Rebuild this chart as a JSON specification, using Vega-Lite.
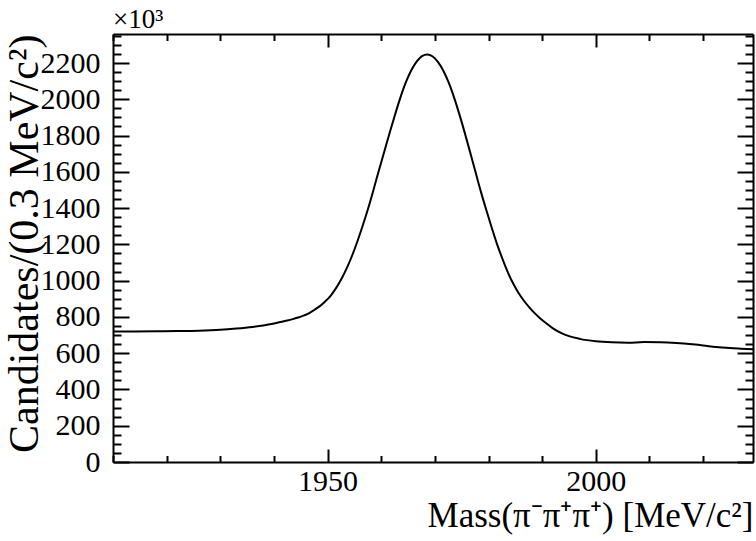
{
  "$schema": "https://vega.github.io/schema/vega-lite/v6.json",
  "width": 640,
  "height": 428,
  "autosize": {"type": "none"},
  "padding": {"left": 113, "top": 34, "right": 3, "bottom": 79},
  "background": "white",
  "title": {"text": "×10³", "anchor": "start", "frame": "group", "font": "Liberation Serif", "fontSize": 27, "fontWeight": "normal", "color": "black", "offset": -13},
  "config": {
    "view": {"stroke": null},
    "axis": {
      "grid": false,
      "domainColor": "black",
      "domainWidth": 2,
      "tickColor": "black",
      "tickWidth": 2,
      "labelFont": "Liberation Serif",
      "labelFontSize": 30,
      "labelColor": "black",
      "titleFont": "Liberation Serif",
      "titleFontWeight": "normal",
      "titleColor": "black",
      "labelOverlap": false,
      "labelFlush": false
    }
  },
  "data": {"values": [
    {"m":1910,"n":719},{"m":1914,"n":720},{"m":1918,"n":721},{"m":1922,"n":722},{"m":1926,"n":724},{"m":1930,"n":729},{"m":1933,"n":736},{"m":1936,"n":745},{"m":1938,"n":753},{"m":1940,"n":764},{"m":1941.5,"n":773},{"m":1942.5,"n":780},{"m":1943.5,"n":788},{"m":1944.5,"n":797},{"m":1945.5,"n":807},{"m":1946.5,"n":820},{"m":1947.5,"n":838},{"m":1948.5,"n":858},{"m":1949.5,"n":884},{"m":1950.6,"n":918},{"m":1951.6,"n":960},{"m":1952.6,"n":1010},{"m":1953.6,"n":1070},{"m":1954.6,"n":1140},{"m":1955.6,"n":1220},{"m":1956.6,"n":1308},{"m":1957.6,"n":1402},{"m":1958.6,"n":1505},{"m":1959.6,"n":1612},{"m":1960.6,"n":1715},{"m":1961.6,"n":1818},{"m":1962.6,"n":1918},{"m":1963.6,"n":2012},{"m":1964.6,"n":2094},{"m":1965.6,"n":2160},{"m":1966.6,"n":2208},{"m":1967.6,"n":2238},{"m":1968.6,"n":2247},{"m":1969.6,"n":2236},{"m":1970.6,"n":2205},{"m":1971.6,"n":2156},{"m":1972.6,"n":2090},{"m":1973.6,"n":2008},{"m":1974.6,"n":1914},{"m":1975.6,"n":1812},{"m":1976.6,"n":1705},{"m":1977.6,"n":1596},{"m":1978.6,"n":1488},{"m":1979.6,"n":1388},{"m":1980.6,"n":1292},{"m":1981.6,"n":1200},{"m":1982.6,"n":1120},{"m":1983.6,"n":1046},{"m":1984.6,"n":984},{"m":1985.6,"n":932},{"m":1986.6,"n":889},{"m":1987.6,"n":853},{"m":1988.6,"n":821},{"m":1989.6,"n":793},{"m":1990.7,"n":766},{"m":1992,"n":737},{"m":1993.5,"n":712},{"m":1995,"n":694},{"m":1997,"n":679},{"m":2000,"n":666},{"m":2003,"n":660},{"m":2006,"n":658},{"m":2009,"n":661},{"m":2012,"n":660},{"m":2015,"n":656},{"m":2018,"n":649},{"m":2020,"n":643},{"m":2022.4,"n":634},{"m":2025,"n":628},{"m":2027,"n":625},{"m":2029.3,"n":622}
  ]},
  "layer": [
    {
      "mark": {"type": "line", "color": "black", "strokeWidth": 2, "interpolate": "monotone"},
      "encoding": {
        "x": {"field": "m", "type": "quantitative",
          "scale": {"domain": [1910, 2029.3], "nice": false, "zero": false},
          "axis": {"orient": "bottom", "values": [1910,1920,1930,1940,1950,1960,1970,1980,1990,2000,2010,2020], "format": "d",
            "labelExpr": "datum.value % 50 === 0 ? datum.label : ''",
            "tickSize": {"condition": {"test": "datum.value % 50 === 0", "value": -13}, "value": -6.5},
            "labelPadding": 17,
            "title": "Mass(π⁻π⁺π⁺) [MeV/c²]", "titleFontSize": 35, "titleAnchor": "end", "titleAlign": "right", "titlePadding": -4}},
        "y": {"field": "n", "type": "quantitative",
          "scale": {"domain": [0, 2360], "nice": false, "zero": true},
          "axis": {"orient": "left", "values": [0,50,100,150,200,250,300,350,400,450,500,550,600,650,700,750,800,850,900,950,1000,1050,1100,1150,1200,1250,1300,1350,1400,1450,1500,1550,1600,1650,1700,1750,1800,1850,1900,1950,2000,2050,2100,2150,2200,2250,2300,2350], "format": "d",
            "labelExpr": "datum.value % 200 === 0 ? datum.label : ''",
            "tickSize": {"condition": {"test": "datum.value % 200 === 0", "value": -16}, "value": -8},
            "labelPadding": 29,
            "title": "Candidates/(0.3 MeV/c²)", "titleFontSize": 42, "titleAnchor": "end", "titleAlign": "right", "titlePadding": -6}}
      }
    },
    {
      "mark": {"type": "line", "opacity": 0},
      "encoding": {
        "x": {"field": "m", "type": "quantitative",
          "axis": {"orient": "top", "values": [1910,1920,1930,1940,1950,1960,1970,1980,1990,2000,2010,2020], "labels": false, "title": null,
            "tickSize": {"condition": {"test": "datum.value % 50 === 0", "value": -13}, "value": -6.5}}},
        "y": {"field": "n", "type": "quantitative",
          "axis": {"orient": "right", "values": [0,50,100,150,200,250,300,350,400,450,500,550,600,650,700,750,800,850,900,950,1000,1050,1100,1150,1200,1250,1300,1350,1400,1450,1500,1550,1600,1650,1700,1750,1800,1850,1900,1950,2000,2050,2100,2150,2200,2250,2300,2350], "labels": false, "title": null,
            "tickSize": {"condition": {"test": "datum.value % 200 === 0", "value": -16}, "value": -8}}}
      }
    }
  ],
  "resolve": {"axis": {"x": "independent", "y": "independent"}}
}
